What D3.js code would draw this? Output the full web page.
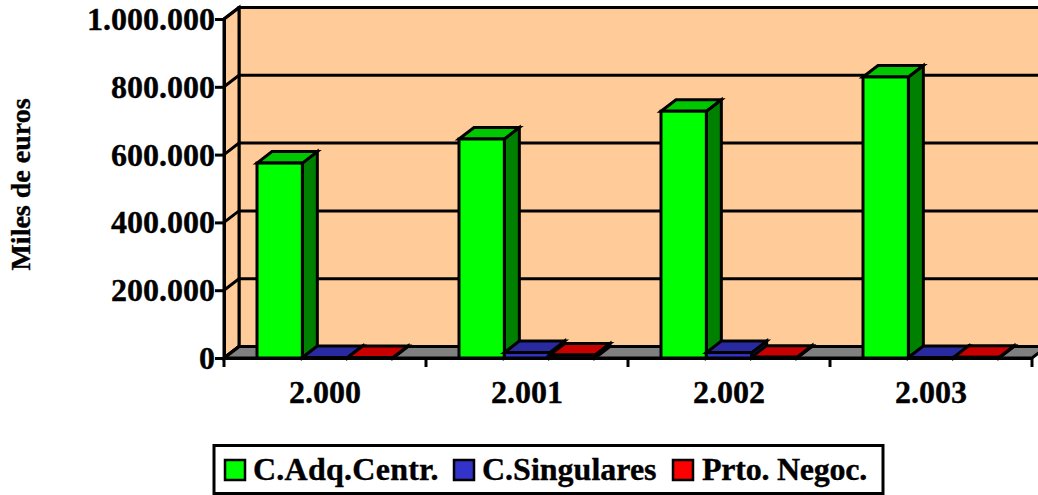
<!DOCTYPE html>
<html><head><meta charset="utf-8">
<script src="https://cdn.jsdelivr.net/npm/d3@7/dist/d3.min.js"></script>
<style>html,body{margin:0;padding:0;background:#fff}svg{display:block}
text{font-family:"Liberation Serif",serif;font-weight:bold;fill:#000;stroke:#000;stroke-width:.35px}</style></head>
<body><svg id="c" width="1038" height="495"></svg>
<script>
const categories = ["2.000","2.001","2.002","2.003"];
const seriesNames = ["C.Adq.Centr.","C.Singulares","Prto. Negoc."];
const adqCentr = [575000,646000,728000,829000];
const singulares = [1500,16000,16000,1500];
const prtoNegoc = [1500,9000,2500,2000];
const yTicks = [0,200000,400000,600000,800000,1000000];
const frontColors = ["#00ff00","#3333cc","#ff0000"];
const topColors = ["#00c800","#2a2aa0","#c80000"];
const sideColors = ["#008000","#1a1a80","#800000"];
const wallColor = "#ffcc99", floorColor = "#808080";
const dx = 15, dy = -11.5, lw = 3;

const svg = d3.select("#c");
const y = d3.scaleLinear().domain([0,1000000]).range([358,19]);
const x = d3.scaleBand().domain(categories).range([224,1032]);
const xs = d3.scaleBand().domain(seriesNames).range([33,x.bandwidth()-33]);
const fmt = d3.formatLocale({decimal:",",thousands:".",grouping:[3],currency:["","€"]}).format(",d");
const P = pts => pts.map(p=>p.join(",")).join(" ");
const [x0,x1] = x.range(), y0=y(0), yT=y(1000000);

// walls and floor
svg.append("polygon").attr("points",P([[x0+dx,yT+dy],[x1+dx,yT+dy],[x1+dx,y0+dy],[x0+dx,y0+dy]])).attr("fill",wallColor).attr("stroke","#000").attr("stroke-width",lw);
svg.append("polygon").attr("points",P([[x0,yT],[x0+dx,yT+dy],[x0+dx,y0+dy],[x0,y0]])).attr("fill",wallColor).attr("stroke","#000").attr("stroke-width",lw);
svg.append("polygon").attr("points",P([[x0,y0],[x0+dx,y0+dy],[x1+dx,y0+dy],[x1,y0]])).attr("fill",floorColor).attr("stroke","#000").attr("stroke-width",lw);
// gridlines
svg.append("g").selectAll("polyline").data(yTicks).join("polyline")
  .attr("points",d=>P([[x0,y(d)],[x0+dx,y(d)+dy],[x1+dx,y(d)+dy]]))
  .attr("fill","none").attr("stroke","#000").attr("stroke-width",lw);

// bars
const series = [adqCentr,singulares,prtoNegoc];
categories.forEach((c,ci)=>{
  seriesNames.forEach((s,si)=>{
    const v = series[si][ci];
    const l = x(c)+xs(s), r = l+xs.bandwidth(), t = y(v), b = y0;
    const g = svg.append("g").attr("stroke","#000").attr("stroke-width",lw).attr("stroke-linejoin","miter");
    g.append("polygon").attr("points",P([[r,b],[r+dx,b+dy],[r+dx,t+dy],[r,t]])).attr("fill",sideColors[si]);
    g.append("polygon").attr("points",P([[l,t],[l+dx,t+dy],[r+dx,t+dy],[r,t]])).attr("fill",topColors[si]);
    g.append("rect").attr("x",l).attr("y",t).attr("width",r-l).attr("height",b-t).attr("fill",frontColors[si]);
  });
});

// axes
const ay = svg.append("g").attr("transform",`translate(${x0},0)`)
  .call(d3.axisLeft(y).tickValues(yTicks).tickFormat(fmt).tickSize(9).tickPadding(0));
const ax = svg.append("g").attr("transform",`translate(0,${y0})`)
  .call(d3.axisBottom(x).tickValues(categories).tickSize(0).tickPadding(22));
svg.append("g").selectAll("line").data(d3.range(categories.length+1)).join("line")
  .attr("x1",i=>x0+i*x.step()).attr("x2",i=>x0+i*x.step()).attr("y1",y0).attr("y2",y0+9)
  .attr("stroke","#000").attr("stroke-width",lw);
[ay,ax].forEach(a=>{
  a.selectAll("path.domain").attr("stroke","#000").attr("stroke-width",lw);
  a.selectAll("line").attr("stroke","#000").attr("stroke-width",lw);
  a.selectAll("text").attr("font-family",null).style("font-size","32px").style("font-family",'"Liberation Serif",serif').style("font-weight","bold").attr("fill","#000");
});
ay.selectAll("text").attr("dy","0.33em");
ax.selectAll("text").attr("dy","0.71em");

// y title
svg.append("text").attr("transform","translate(30,184.5) rotate(-90)").attr("text-anchor","middle").style("font-size","28px").text("Miles de euros");

// legend
const legendX = [224,453,672], legendTextX = [253,482,702], legendSpacing = [0.25,0,-0.25];
svg.append("rect").attr("x",214).attr("y",445.5).attr("width",669).attr("height",48).attr("fill","#fff").attr("stroke","#000").attr("stroke-width",3);
seriesNames.forEach((s,i)=>{
  svg.append("rect").attr("x",legendX[i]+1).attr("y",460).attr("width",20).attr("height",20).attr("fill",frontColors[i]).attr("stroke","#000").attr("stroke-width",2.5);
  svg.append("text").attr("x",legendTextX[i]).attr("y",480).style("font-size","32px").style("letter-spacing",legendSpacing[i]+"px").text(s);
});
</script></body></html>
